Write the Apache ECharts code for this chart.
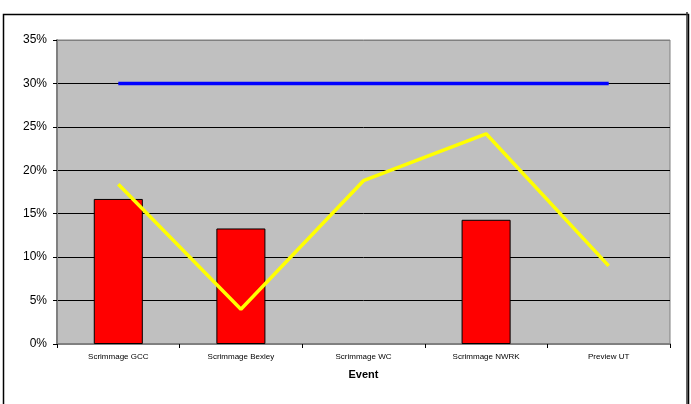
<!DOCTYPE html>
<html>
<head>
<meta charset="utf-8">
<script src="https://cdn.jsdelivr.net/npm/echarts@6/dist/echarts.min.js"></script>
<style>html,body{margin:0;padding:0;background:#fff;}#c{width:691px;height:404px;}</style>
</head>
<body>
<div id="c"></div>
<script>
var categories = ['Scrimmage GCC', 'Scrimmage Bexley', 'Scrimmage WC', 'Scrimmage NWRK', 'Preview UT'];
var barValues = [16.7, 13.3, null, 14.3, null];
var yellowValues = [18.4, 4.0, 18.8, 24.2, 9.0];
var blueValues = [30, 30, 30, 30, 30];
var yTicks = [0, 5, 10, 15, 20, 25, 30, 35];

var chart = echarts.init(document.getElementById('c'), null, {renderer: 'canvas'});
chart.setOption({
  animation: false,
  backgroundColor: '#fff',
  textStyle: {fontFamily: 'Liberation Sans, Arial, sans-serif'},
  graphic: [{
    type: 'rect', left: 1, top: 12, z: -10,
    shape: {x: 0, y: 0, width: 685, height: 400},
    style: {fill: 'none', stroke: '#000', lineWidth: 1.5}
  }, {
    type: 'line', z: -10,
    shape: {x1: 687, y1: 12, x2: 687, y2: 404},
    style: {stroke: '#333', lineWidth: 1.5}
  }],
  grid: {
    left: 57, top: 40, right: 21, bottom: 60, containLabel: false,
    show: true, backgroundColor: '#C0C0C0', borderColor: '#808080', borderWidth: 1
  },
  xAxis: {
    type: 'category', data: categories,
    name: 'Event', nameLocation: 'middle', nameGap: 25,
    nameTextStyle: {fontSize: 11, fontWeight: 'bold', color: '#000', fontFamily: 'Liberation Sans'},
    axisLine: {lineStyle: {color: '#808080', width: 2}},
    axisTick: {show: true, length: 4, lineStyle: {color: '#000'}},
    axisLabel: {fontSize: 8, color: '#000', margin: 9, interval: 0, fontFamily: 'Liberation Sans'},
    splitLine: {show: false}
  },
  yAxis: {
    type: 'value', min: yTicks[0], max: yTicks[yTicks.length - 1], interval: 5,
    axisLine: {show: true, lineStyle: {color: '#808080', width: 2}},
    axisTick: {show: true, length: 4, lineStyle: {color: '#000'}},
    axisLabel: {fontSize: 12, color: '#000', margin: 10, formatter: '{value}%', fontFamily: 'Liberation Sans'},
    splitLine: {show: true, lineStyle: {color: ['#808080', '#000', '#000', '#000', '#000', '#000', '#000', '#808080'], width: 1}}
  },
  series: [
    {
      type: 'bar', data: barValues, barWidth: '40%',
      itemStyle: {color: '#FF0000', borderColor: '#000', borderWidth: 1}
    },
    {
      type: 'line', data: blueValues, symbol: 'none',
      lineStyle: {color: '#0000FF', width: 3.5}, z: 3
    },
    {
      type: 'line', data: yellowValues, symbol: 'none',
      lineStyle: {color: '#FFFF00', width: 3.5}, z: 4
    }
  ]
});
</script>
</body>
</html>
